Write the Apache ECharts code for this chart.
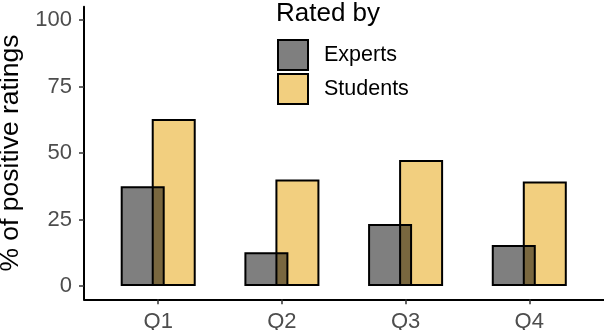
<!DOCTYPE html>
<html lang="en">
<head>
<meta charset="UTF-8">
<title>Positive ratings</title>
<script src="https://cdn.jsdelivr.net/npm/echarts@6.0.0/dist/echarts.min.js"></script>
<style>
  html, body { margin: 0; padding: 0; background: #fff; }
  #main { width: 604px; height: 330px; }
</style>
</head>
<body>
<div id="main"></div>
<script>
// data
var categories = ['Q1', 'Q2', 'Q3', 'Q4'];
var experts = [37.5, 12.7, 23.3, 15.4];
var students = [62.8, 40.0, 47.4, 39.3];
var yTicks = [0, 25, 50, 75, 100];
var legendTitle = 'Rated by';

var font = "'Liberation Sans', Arial, sans-serif";
var catPos = categories.map(function (c, i) { return i + 1; });

function pairs(vals) {
  return vals.map(function (v, i) { return [catPos[i], v]; });
}

var chart = echarts.init(document.getElementById('main'), null, { renderer: 'canvas' });
chart.setOption({
  animation: false,
  backgroundColor: '#fff',
  textStyle: { fontFamily: font },
  title: {
    text: legendTitle,
    left: 276, top: 1, padding: 0,
    textStyle: { fontFamily: font, fontSize: 26, fontWeight: 'normal', color: '#000' }
  },
  legend: {
    data: ['Experts', 'Students'],
    orient: 'vertical',
    left: 277, top: 39,
    padding: 0,
    itemWidth: 30, itemHeight: 30, itemGap: 2,
    icon: 'rect',
    textStyle: { fontFamily: font, fontSize: 21.5, color: '#000', padding: [0, 0, 0, 11] }
  },
  grid: {
    left: 84, right: 0.5, top: 6.7, bottom: 30.7,
    outerBoundsMode: 'none'
  },
  xAxis: {
    type: 'value',
    min: 0.4, max: 4.6,
    axisLine: { onZero: false, lineStyle: { color: '#000', width: 2 } },
    axisTick: { customValues: catPos, length: 5, lineStyle: { color: '#333', width: 1.5 } },
    axisLabel: {
      customValues: catPos,
      margin: 12,
      fontSize: 22, color: '#4D4D4D', fontFamily: font,
      formatter: function (v) { return categories[Math.round(v) - 1]; }
    },
    splitLine: { show: false }
  },
  yAxis: {
    type: 'value',
    min: -5, max: 105,
    name: '% of positive ratings',
    nameLocation: 'middle',
    nameGap: 59,
    nameTextStyle: { fontFamily: font, fontSize: 26.5, color: '#000' },
    axisLine: { show: true, onZero: false, lineStyle: { color: '#000', width: 2 } },
    axisTick: { show: true, customValues: yTicks, length: 5, lineStyle: { color: '#333', width: 1.5 } },
    axisLabel: {
      customValues: yTicks,
      margin: 12,
      fontSize: 22, color: '#4D4D4D', fontFamily: font
    },
    splitLine: { show: false }
  },
  series: [
    {
      name: 'Experts',
      type: 'bar',
      z: 3,
      data: pairs(experts),
      barWidth: 44,
      barGap: '-29.5%',
      itemStyle: { color: 'rgba(0,0,0,0.5)', borderColor: '#000', borderWidth: 2 }
    },
    {
      name: 'Students',
      type: 'bar',
      z: 2,
      data: pairs(students),
      barWidth: 44,
      barGap: '-29.5%',
      itemStyle: { color: 'rgba(230,159,0,0.5)', borderColor: '#000', borderWidth: 2 }
    }
  ]
});
</script>
</body>
</html>
